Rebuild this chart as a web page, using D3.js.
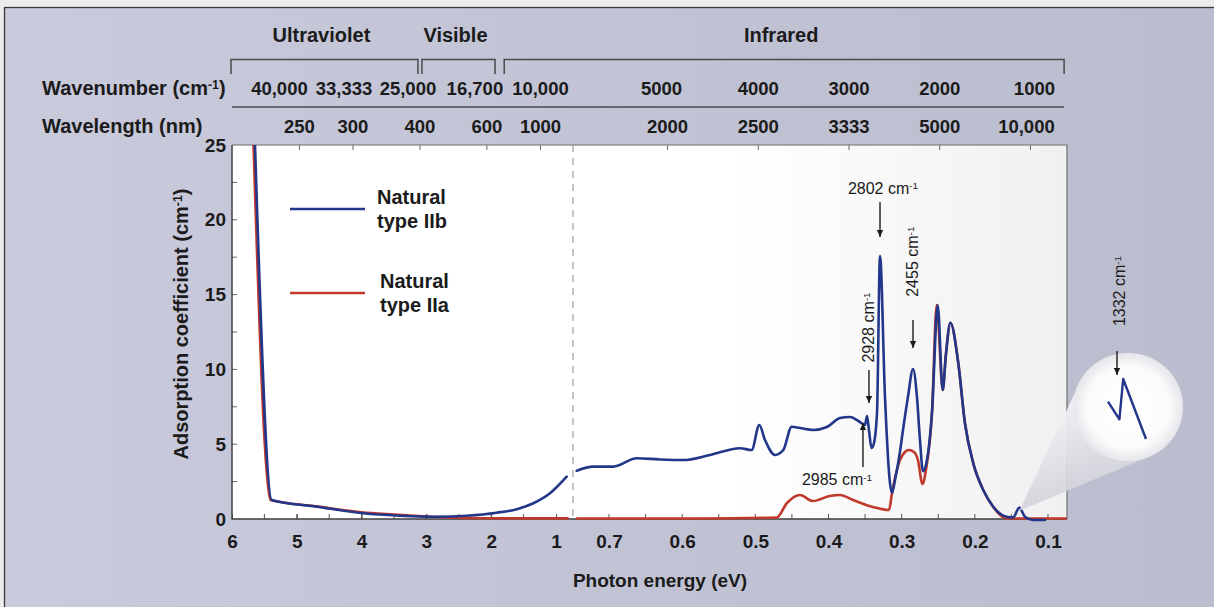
<!DOCTYPE html>
<html>
<head>
<meta charset="utf-8">
<script src="https://cdn.jsdelivr.net/npm/d3@7"></script>
<style>
  body { margin: 0; background: #ececec; overflow: hidden; }
  svg { display: block; }
  text { font-family: "Liberation Sans", Arial, Helvetica, sans-serif; fill: #1b1b1b; }
</style>
</head>
<body>
<svg id="chart" width="1214" height="607"></svg>
<script>
// ---- data (energy in eV, absorption in cm-1) ----
var iibUvEnergy = [5.645, 5.387, 4.693, 3.974, 3.407, 2.841, 2.378, 1.915, 1.606, 1.350, 1.093, 0.835];
var iibUvAbs    = [25, 1.27, 0.82, 0.38, 0.22, 0.15, 0.22, 0.42, 0.65, 1.05, 1.72, 2.83];
var iiaUvEnergy = [5.668, 5.406, 4.7, 4.0, 3.5, 3.0, 2.5, 2.0, 1.4, 0.82];
var iiaUvAbs    = [25, 1.27, 0.85, 0.45, 0.30, 0.17, 0.08, 0.05, 0.04, 0.04];

var iibIrEnergy = [0.7441, 0.7215, 0.6941, 0.6621, 0.6303, 0.5985, 0.5620, 0.5210, 0.5050, 0.4946,
                   0.4868, 0.4731, 0.4618, 0.4503, 0.4390, 0.4212, 0.4021, 0.3843, 0.3706, 0.3570,
                   0.3501, 0.3474, 0.3447, 0.3412, 0.3385, 0.3337, 0.3296, 0.3228, 0.3160, 0.3132,
                   0.3091, 0.3023, 0.2982, 0.2914, 0.2845, 0.2791, 0.2750, 0.2709, 0.2654, 0.2586,
                   0.2507, 0.2439, 0.2395, 0.2334, 0.2226, 0.2135, 0.2021, 0.1885, 0.1748, 0.1565,
                   0.1475, 0.1393, 0.1315, 0.1205, 0.1041];
var iibIrAbs    = [3.23, 3.50, 3.50, 4.06, 3.98, 3.94, 4.28, 4.73, 4.61, 6.28,
                   5.28, 4.28, 4.61, 6.17, 6.08, 5.95, 6.15, 6.75, 6.82, 6.48,
                   6.28, 6.88, 5.95, 4.75, 4.95, 7.09, 17.58, 8.16, 2.41, 1.74,
                   2.61, 4.50, 5.95, 8.16, 10.03, 8.16, 5.28, 3.20, 3.94, 7.09,
                   14.30, 8.62, 11.0, 13.12, 10.41, 6.40, 3.72, 1.94, 0.82, 0.15,
                   0.11, 0.76, 0.15, -0.07, -0.07];
var iiaIrEnergy = [0.7437, 0.5756, 0.4708, 0.4567, 0.4390, 0.4212, 0.3980, 0.3843, 0.3665, 0.3392,
                   0.3173, 0.3132, 0.3023, 0.2955, 0.2900, 0.2832, 0.2777, 0.2716, 0.2668, 0.2586,
                   0.2521, 0.2439, 0.2395, 0.2334, 0.2226, 0.2135, 0.2021, 0.1885, 0.1748, 0.1615,
                   0.1520, 0.074];
var iiaIrAbs    = [0.03, 0.03, 0.10, 1.07, 1.60, 1.20, 1.54, 1.60, 1.27, 0.80,
                   0.60, 1.74, 3.94, 4.48, 4.61, 4.48, 3.94, 2.34, 3.27, 7.09,
                   14.30, 8.62, 11.0, 13.12, 10.41, 6.40, 3.72, 1.94, 0.80, 0.13,
                   0.03, 0.03];

// magnified 1332 cm-1 peak shown in the bubble
var insetEnergy = [0.1430, 0.1400, 0.1390, 0.1330];
var insetAbs    = [0.53, 0.35, 0.76, 0.15];

var absTicks = [0, 5, 10, 15, 20, 25];
var energyTicksUv = [6, 5, 4, 3, 2, 1];
var energyTicksIr = [0.7, 0.6, 0.5, 0.4, 0.3, 0.2, 0.1];
var wavelengthNm = [250, 300, 400, 600, 1000, 2000, 2500, 3333, 5000, 10000];
var wavelengthLabels = ["250", "300", "400", "600", "1000", "2000", "2500", "3333", "5000", "10,000"];
var wavenumberLabels = ["40,000", "33,333", "25,000", "16,700", "10,000", "5000", "4000", "3000", "2000", "1000"];
var bandNames = ["Ultraviolet", "Visible", "Infrared"];
var bandFromEv = [6, 3.1, 1.83];
var bandToEv = [3.1, 1.91, 0.078];
var seriesNames = [["Natural", "type IIb"], ["Natural", "type IIa"]];
var peakLabels = ["2802", "2928", "2455", "2985"];
var peakEv = [0.3296, 0.3447, 0.2845, 0.3529];

// ---- setup ----
var svg = d3.select("#chart");
var plot = {left: 232, right: 1067, top: 145, bottom: 519};
var blue = "#22368a", red = "#c0392b";

//Broken energy axis: linear 6..1 eV on the left, stretched 0.7..0.1 eV on the right
var xUv = d3.scaleLinear().domain([6, 1]).range([232, 556]);
var xIr = d3.scaleLinear().domain([0.7, 0.1]).range([609, 1048]);
var breakEv = 0.745;
function xEv(e) { return e > breakEv ? xUv(e) : xIr(e); }
var xBreak = xUv(0.738);

var y = d3.scaleLinear().domain([0, 25]).range([plot.bottom, plot.top]);

var defs = svg.append("defs");
var pg = defs.append("linearGradient").attr("id", "panelGrad");
pg.append("stop").attr("offset", "0%").attr("stop-color", "#c9cadc");
pg.append("stop").attr("offset", "100%").attr("stop-color", "#babdcd");
var wg = defs.append("linearGradient").attr("id", "plotGrad");
wg.append("stop").attr("offset", "0%").attr("stop-color", "#ffffff");
wg.append("stop").attr("offset", "60%").attr("stop-color", "#ffffff");
wg.append("stop").attr("offset", "100%").attr("stop-color", "#f0f0f1");
var cg = defs.append("linearGradient").attr("id", "coneGrad")
    .attr("x1", "0%").attr("y1", "0%").attr("x2", "30%").attr("y2", "100%");
cg.append("stop").attr("offset", "0%").attr("stop-color", "#ffffff").attr("stop-opacity", 0.95);
cg.append("stop").attr("offset", "100%").attr("stop-color", "#cfd0d8").attr("stop-opacity", 0.9);
var rg = defs.append("radialGradient").attr("id", "bubbleGrad");
rg.append("stop").attr("offset", "0%").attr("stop-color", "#ffffff");
rg.append("stop").attr("offset", "75%").attr("stop-color", "#fbfbfc");
rg.append("stop").attr("offset", "100%").attr("stop-color", "#e6e6eb");
defs.append("clipPath").attr("id", "plotClip").append("rect")
    .attr("x", plot.left).attr("y", plot.top)
    .attr("width", plot.right - plot.left).attr("height", plot.bottom - plot.top + 4);
defs.append("marker").attr("id", "arrow")
    .attr("viewBox", "0 0 10 10").attr("refX", 10).attr("refY", 5)
    .attr("markerUnits", "userSpaceOnUse").attr("markerWidth", 9).attr("markerHeight", 7)
    .attr("orient", "auto")
  .append("path").attr("d", "M0,0.5 L10,5 L0,9.5 Z").attr("fill", "#1b1b1b");

//Background panel
svg.append("rect").attr("width", 1214).attr("height", 607).attr("fill", "#ececec");
svg.append("rect").attr("x", 4.5).attr("y", 7.5).attr("width", 1212).attr("height", 602)
    .attr("fill", "url(#panelGrad)").attr("stroke", "#3a3a3a").attr("stroke-width", 1.3);

//Plot area
svg.append("rect").attr("x", plot.left).attr("y", plot.top)
    .attr("width", plot.right - plot.left).attr("height", plot.bottom - plot.top)
    .attr("fill", "url(#plotGrad)");

// small helper for "xxx cm-1" style labels
function supLabel(sel, main, sup, tail) {
  sel.append("tspan").text(main);
  sel.append("tspan").attr("dy", "-0.45em").attr("font-size", "0.62em").text(sup);
  if (tail) sel.append("tspan").attr("dy", "0.28em").text(tail);
  return sel;
}

// ---- spectral band brackets and secondary scales ----
var head = svg.append("g");
bandNames.forEach(function(name, i) {
  var x1 = xEv(bandFromEv[i]) + (i ? 2 : -1), x2 = xEv(bandToEv[i]) - (i < 2 ? 2 : 0);
  head.append("path")
      .attr("d", "M" + x1 + ",74 V59.5 H" + x2 + " V74")
      .attr("fill", "none").attr("stroke", "#4a4a4a").attr("stroke-width", 1.5);
  head.append("text").attr("x", (x1 + x2) / 2 - 3).attr("y", 42)
      .attr("text-anchor", "middle").attr("font-size", 20).attr("font-weight", "bold").text(name);
});
head.append("line").attr("x1", plot.left).attr("x2", 1064).attr("y1", 107).attr("y2", 107)
    .attr("stroke", "#4a4a4a").attr("stroke-width", 1.5);

supLabel(head.append("text").attr("x", 42).attr("y", 95).attr("font-size", 20).attr("font-weight", "bold"),
  "Wavenumber (cm", "-1", ")");
head.append("text").attr("x", 42).attr("y", 133).attr("font-size", 20).attr("font-weight", "bold")
    .text("Wavelength (nm)");

//the crowded UV wavenumbers sit a little left of their column
var wavenumberNudge = [-20, -9, -12, -12, 0, -6, 0, 0, 0, 4];
wavelengthNm.forEach(function(nm, i) {
  var xp = xEv(1239.84 / nm);
  head.append("text").attr("x", xp + wavenumberNudge[i]).attr("y", 95)
      .attr("text-anchor", "middle").attr("font-size", 18.5).attr("font-weight", "bold")
      .text(wavenumberLabels[i]);
  head.append("text").attr("x", xp + (i == 9 ? -4 : 0)).attr("y", 133)
      .attr("text-anchor", "middle").attr("font-size", 18.5).attr("font-weight", "bold")
      .text(wavelengthLabels[i]);
  // top tick marks on the plot frame
  svg.append("line").attr("x1", xp).attr("x2", xp).attr("y1", plot.top).attr("y2", plot.top + 5)
      .attr("stroke", "#666").attr("stroke-width", 1);
});

// ---- axes ----
var axisFont = function(g) {
  g.select(".domain").remove();
  g.selectAll("text").attr("font-size", 19).attr("font-weight", "bold")
      .attr("font-family", "Liberation Sans, Arial, sans-serif").attr("fill", "#1b1b1b");
  g.selectAll(".tick line").attr("stroke", "#555");
};

svg.append("g").attr("transform", "translate(0," + plot.bottom + ")")
    .call(d3.axisBottom(xUv).tickValues(energyTicksUv).tickSizeInner(-5).tickSizeOuter(0).tickPadding(16)
      .tickFormat(d3.format("d")))
    .call(axisFont);
svg.append("g").attr("transform", "translate(0," + plot.bottom + ")")
    .call(d3.axisBottom(xIr).tickValues(energyTicksIr).tickSize(0).tickPadding(16)
      .tickFormat(d3.format(".1f")))
    .call(axisFont);

//minor ticks along the bottom
d3.range(5.5, 1, -0.5).concat(d3.range(0.7, 0.09, -0.05)).forEach(function(e) {
  var xp = xEv(e);
  svg.append("line").attr("x1", xp).attr("x2", xp).attr("y1", plot.bottom).attr("y2", plot.bottom - 5)
      .attr("stroke", "#555").attr("stroke-width", 1);
});

svg.append("g").attr("transform", "translate(" + plot.left + ",0)")
    .call(d3.axisLeft(y).tickValues(absTicks).tickSize(0).tickPadding(6))
    .call(axisFont);
d3.range(2.5, 25, 2.5).forEach(function(v) {
  svg.append("line").attr("x1", plot.left).attr("x2", plot.left + 5).attr("y1", y(v)).attr("y2", y(v))
      .attr("stroke", "#666").attr("stroke-width", 1);
});

//frame
svg.append("path")
    .attr("d", "M" + plot.left + "," + plot.top + " H" + plot.right + " V" + plot.bottom)
    .attr("fill", "none").attr("stroke", "#6f6f6f").attr("stroke-width", 1.2);
svg.append("path")
    .attr("d", "M" + plot.left + "," + plot.top + " V" + plot.bottom + " H" + plot.right)
    .attr("fill", "none").attr("stroke", "#3f3f3f").attr("stroke-width", 1.5);

//dashed line where the energy scale changes
svg.append("line").attr("x1", xBreak).attr("x2", xBreak).attr("y1", plot.top).attr("y2", plot.bottom)
    .attr("stroke", "#8a8a8a").attr("stroke-width", 1).attr("stroke-dasharray", "7,6");

//axis titles
supLabel(svg.append("text").attr("transform", "translate(188,324) rotate(-90)")
    .attr("text-anchor", "middle").attr("font-size", 20).attr("font-weight", "bold"),
  "Adsorption coefficient  (cm", "-1", ")");
svg.append("text").attr("x", 660).attr("y", 587).attr("text-anchor", "middle")
    .attr("font-size", 19).attr("font-weight", "bold").text("Photon energy (eV)");

// ---- spectra ----
var line = d3.line()
    .x(function(d) { return xEv(d[0]); })
    .y(function(d) { return y(d[1]); })
    .curve(d3.curveMonotoneX);

var curves = svg.append("g").attr("clip-path", "url(#plotClip)");
[[iiaUvEnergy, iiaUvAbs, red], [iiaIrEnergy, iiaIrAbs, red],
 [iibUvEnergy, iibUvAbs, blue], [iibIrEnergy, iibIrAbs, blue]].forEach(function(s) {
  curves.append("path")
      .datum(d3.zip(s[0], s[1]))
      .attr("fill", "none").attr("stroke", s[2]).attr("stroke-width", 2.6)
      .attr("stroke-linejoin", "round").attr("stroke-linecap", "round")
      .attr("d", line);
});

// ---- legend ----
var legend = svg.append("g");
seriesNames.forEach(function(lines, i) {
  var ly = i ? 293 : 209, tx = i ? 380 : 377;
  legend.append("line").attr("x1", 290).attr("x2", 365).attr("y1", ly).attr("y2", ly)
      .attr("stroke", i ? red : blue).attr("stroke-width", 2.6);
  lines.forEach(function(t, j) {
    legend.append("text").attr("x", tx).attr("y", ly - 5 + j * 24)
        .attr("font-size", 20).attr("font-weight", "bold").text(t);
  });
});

// ---- magnifier bubble for the 1332 cm-1 line ----
var apex = [xEv(0.1393), y(0.55)];
var bub = {cx: 1128, cy: 407, r: 54};
var dx = bub.cx - apex[0], dy = bub.cy - apex[1];
var d = Math.sqrt(dx * dx + dy * dy), base = Math.atan2(dy, dx), off = Math.asin(bub.r / d);
var tl = Math.sqrt(d * d - bub.r * bub.r);
var t1 = [apex[0] + tl * Math.cos(base - off), apex[1] + tl * Math.sin(base - off)];
var t2 = [apex[0] + tl * Math.cos(base + off), apex[1] + tl * Math.sin(base + off)];
var mag = svg.append("g");
mag.append("path")
    .attr("d", "M" + apex + " L" + t1 + " A" + bub.r + "," + bub.r + " 0 0,1 " + t2 + " Z")
    .attr("fill", "url(#coneGrad)");
mag.append("ellipse").attr("cx", bub.cx).attr("cy", bub.cy).attr("rx", bub.r + 1).attr("ry", bub.r)
    .attr("fill", "url(#bubbleGrad)");

var ix = d3.scaleLinear().domain([0.143, 0.133]).range([1108, 1146]);
var iy = d3.scaleLinear().domain([0.15, 0.76]).range([439, 379]);
mag.append("path")
    .datum(d3.zip(insetEnergy, insetAbs))
    .attr("fill", "none").attr("stroke", blue).attr("stroke-width", 2.4).attr("stroke-linejoin", "round")
    .attr("d", d3.line().x(function(p) { return ix(p[0]); }).y(function(p) { return iy(p[1]); }));

// ---- peak annotations ----
var notes = svg.append("g");
function arrow(x1, y1, x2, y2) {
  notes.append("line").attr("x1", x1).attr("y1", y1).attr("x2", x2).attr("y2", y2)
      .attr("stroke", "#1b1b1b").attr("stroke-width", 1.4).attr("marker-end", "url(#arrow)");
}
//2802: label above, arrow down
var px = xEv(peakEv[0]);
arrow(px, y(21.19), px, y(18.85));
supLabel(notes.append("text").attr("x", px + 3).attr("y", y(21.75)).attr("text-anchor", "middle")
    .attr("font-size", 16), peakLabels[0] + " cm", "-1");
//2928: rotated label, arrow down
px = xEv(peakEv[1]);
arrow(px, y(9.96), px, y(7.75));
supLabel(notes.append("text").attr("transform", "translate(" + (px + 5) + "," + y(12.8) + ") rotate(-90)")
    .attr("text-anchor", "middle").attr("font-size", 16), peakLabels[1] + " cm", "-1");
//2455: rotated label, arrow down
px = xEv(peakEv[2]);
arrow(px, y(13.3), px, y(11.43));
supLabel(notes.append("text").attr("transform", "translate(" + (px + 5) + "," + y(17.2) + ") rotate(-90)")
    .attr("text-anchor", "middle").attr("font-size", 16), peakLabels[2] + " cm", "-1");
//2985: label below, arrow up
px = xEv(peakEv[3]);
arrow(px, y(3.48), px, y(6.42));
supLabel(notes.append("text").attr("x", xEv(0.3884)).attr("y", y(2.27)).attr("text-anchor", "middle")
    .attr("font-size", 16), peakLabels[3] + " cm", "-1");
//1332: arrow into the bubble
arrow(1117, 351, 1117, 375);
supLabel(notes.append("text").attr("transform", "translate(1125,291) rotate(-90)")
    .attr("text-anchor", "middle").attr("font-size", 16), "1332 cm", "-1");
</script>
</body>
</html>
